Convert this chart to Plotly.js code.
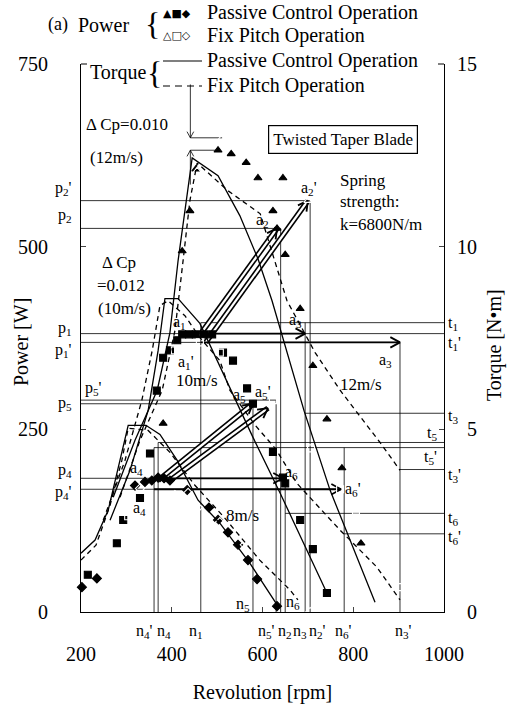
<!DOCTYPE html>
<html><head><meta charset="utf-8">
<script src="https://cdn.plot.ly/plotly-3.0.1.min.js"></script>
<style>html,body{margin:0;padding:0;background:#fff}#chart{width:517px;height:709px}</style>
</head><body><div id="chart"></div>
<script>
// ---------- Power data (rpm, W) ----------
const rpmP12 = [381, 423, 440, 453, 502, 531, 564, 590, 645, 623, 632, 650, 683, 711, 742, 775, 817];
const powP12 = [258, 494, 549, 606, 632, 627, 615, 594, 594, 549, 525, 489, 415, 337, 264, 197, 94];
const rpmF12 = [257, 456, 511, 548, 592, 700, 738, 819];
const powF12 = [100, 604, 649, 641, 617, 563, 499, 436];
const rpmP10 = [215, 279, 293, 330, 352, 367, 381, 396, 412, 423, 438, 453, 471, 489, 513, 535, 566, 579, 623, 645, 650, 683, 711, 742];
const powP10 = [51, 94, 126, 156, 217, 303, 348, 358, 372, 380, 380, 380, 380, 380, 355, 344, 306, 285, 219, 184, 176, 126, 86, 26];
const rpmF10 = [251, 255, 304, 407, 462, 506, 557, 623, 658, 707, 755, 771, 806, 855, 907];
const powF10 = [71, 82, 131, 358, 369, 355, 331, 290, 258, 224, 187, 168, 139, 94, 34];
const rpmP8 = [202, 235, 319, 341, 356, 370, 383, 396, 434, 482, 502, 524, 546, 568, 588, 632];
const powP8 = [34, 46, 173, 178, 180, 184, 183, 180, 167, 143, 126, 109, 92, 71, 45, 8];
const rpmF8 = [185, 304, 306, 330, 407, 436, 458, 506, 561, 610, 658, 705];
const powF8 = [26, 157, 149, 169, 160, 163, 143, 123, 92, 67, 36, 0];

// ---------- Torque curves (rpm, N·m) ----------
const rpmT8P = [200, 231, 260, 281, 304, 343, 374, 412, 458, 506, 572, 634];
const torT8P = [1.61, 1.97, 2.79, 3.88, 5.11, 5.11, 4.86, 4.15, 3.06, 2.43, 1.34, 0.16];
const rpmT8F = [200, 233, 264, 290, 304, 348, 396, 451, 517, 594, 661, 678];
const torT8F = [1.42, 1.83, 2.92, 4.15, 5.03, 4.97, 4.37, 3.47, 2.57, 1.42, 0.60, 0.33];
const rpmT10P = [264, 308, 348, 370, 385, 414, 462, 528, 579, 639, 742];
const torT10P = [2.51, 3.88, 5.52, 7.16, 8.58, 8.58, 7.90, 6.12, 4.78, 3.25, 0.52];
const rpmT10F = [249, 297, 334, 357, 374, 392, 429, 462, 506, 528, 584, 628, 676, 771, 852, 903];
const torT10F = [2.51, 4.15, 5.79, 7.16, 8.39, 8.52, 8.11, 7.51, 6.88, 6.07, 5.11, 4.48, 3.52, 2.24, 1.23, 0.33];
const rpmT12P = [271, 319, 368, 396, 414, 429, 445, 502, 550, 590, 621, 692, 749, 848];
const torT12P = [3.14, 4.70, 6.07, 7.65, 9.62, 10.98, 12.43, 11.94, 10.85, 9.67, 8.52, 5.49, 3.33, 0.27];
const rpmT12F = [286, 330, 379, 407, 425, 440, 456, 524, 595, 654, 716, 771, 859, 903];
const torT12F = [3.14, 4.70, 6.07, 7.70, 9.62, 11.26, 12.29, 11.53, 10.90, 8.52, 7.10, 6.07, 4.64, 3.88];

// ---------- Operating points (rpm) and levels (W) ----------
const nNames = ["n4'", "n4", "n1", "n5", "n5'", "n2", "n6", "n3", "n2'", "n6'", "n3'"];
const nVals  = [361, 370, 464, 579, 630, 640, 650, 694, 705, 780, 903];
const nTops  = [225, 232, 396, 290, 290, 525, 183, 396, 563, 225, 369];
const pNames = ["p2'", "p2", "p1", "p1'", "p5'", "p5", "p4", "p4'"];
const pVals  = [563, 525, 381, 369, 290, 285, 183, 168];
const pEnds  = [705, 640, 1000, 903, 630, 579, 645, 773];
const tNames = ["t1", "t3", "t5", "t5'", "t3'", "t6", "t6'"];
const tVals  = [396, 272, 232, 225, 195, 135, 107];
const tStarts= [464, 694, 370, 361, 903, 650, 780];

// double-line arrows [x0,y0,x1,y1] (rpm, W)
const dblArrows = [[464, 381, 632, 525], [475, 369, 700, 563], [370, 180, 579, 285], [396, 180, 612, 279]];
// single horizontal arrows
const hArrows = [[464, 381, 694, 381], [464, 369, 903, 369], [370, 183, 645, 183], [361, 168, 773, 168]];

const SERIF = "Liberation Serif, serif";
const L = 81, R = 73, T = 64, B = 97, W = 517, H = 709;
const PW = W - L - R, PH = H - T - B;
const sx = PW / 800, sy = PH / 750;
const px = v => (v - L) / PW;          // pixel -> paper x
const py = v => (H - B - v) / PH;      // pixel -> paper y

const traces = [];
const line = (x, y, w, dash, axis) => traces.push({type: 'scatter', mode: 'lines', x, y, yaxis: axis || 'y',
  line: {color: '#000', width: w, dash: dash || 'solid'}, hoverinfo: 'skip', showlegend: false, cliponaxis: false});

// reference lines
nVals.forEach((n, i) => line([n, n], [0, nTops[i]], 0.8));
pVals.forEach((p, i) => line([200, pEnds[i]], [p, p], 0.8));
tVals.forEach((t, i) => line([tStarts[i], 1000], [t, t], 0.8));

// torque curves (secondary axis)
line(rpmT8P, torT8P, 1.3, 'solid', 'y2');
line(rpmT8F, torT8F, 1.3, '5px,4px', 'y2');
line(rpmT10P, torT10P, 1.3, 'solid', 'y2');
line(rpmT10F, torT10F, 1.3, '5px,4px', 'y2');
line(rpmT12P, torT12P, 1.3, 'solid', 'y2');
line(rpmT12F, torT12F, 1.3, '5px,4px', 'y2');

// open chevron arrowhead computed through the axis scales
function head(x0, y0, x1, y1, len, w) {
  const dx = (x1 - x0) * sx, dy = (y1 - y0) * sy, Ln = Math.hypot(dx, dy);
  const ux = dx / Ln, uy = dy / Ln, a = 0.5;
  const pts = [1, -1].map(s => {
    const c = Math.cos(a), si = Math.sin(a) * s;
    const hx = -ux * c + uy * si, hy = -uy * c - ux * si;
    return [x1 + hx * len / sx, y1 + hy * len / sy];
  });
  line([pts[0][0], x1, pts[1][0]], [pts[0][1], y1, pts[1][1]], w || 1.6);
}
dblArrows.forEach(a => { line([a[0], a[2]], [a[1], a[3]], 5.5); });
dblArrows.forEach(a => { line([a[0], a[2]], [a[1], a[3]], 2.3); traces[traces.length - 1].line.color = '#fff'; });
dblArrows.forEach(a => head(a[0], a[1], a[2], a[3], 11, 1.8));
hArrows.forEach(a => { line([a[0], a[2]], [a[1], a[3]], 1.8); head(a[0], a[1], a[2], a[3], 11, 1.8); });

// delta Cp markers
const cpX = 441, cpHi = 649, cpLo = 632;
line([cpX, 511], [cpHi, cpHi], 0.8);
line([cpX, 502], [cpLo, cpLo], 0.8);
line([cpX, cpX], [722, cpHi], 0.8); head(cpX, 722, cpX, cpHi, 7, 0.8);
line([cpX, cpX], [585, cpLo], 0.8); head(cpX, 585, cpX, cpLo, 7, 0.8);

// power markers
const mk = (x, y, sym) => traces.push({type: 'scatter', mode: 'markers', x, y, showlegend: false, hoverinfo: 'skip', cliponaxis: false,
  marker: {symbol: sym, size: 7, color: sym.includes('open') ? '#fff' : '#000', line: {color: '#000', width: 1.1}}});
mk(rpmP12, powP12, 'triangle-up');
mk(rpmF12, powF12, 'triangle-up-open');
mk(rpmP10, powP10, 'square');
mk(rpmF10, powF10, 'square-open');
mk(rpmP8, powP8, 'diamond');
mk(rpmF8, powF8, 'diamond-open');

// ---------- annotations ----------
const ann = [];
const F = s => ({family: SERIF, size: s, color: '#000'});
const txt = (text, x, y, o) => ann.push(Object.assign({text, x, y, xref: 'x', yref: 'y', showarrow: false,
  xanchor: 'center', yanchor: 'middle', font: F(15)}, o || {}));
const ptxt = (text, x, y, o) => txt(text, px(x), py(y), Object.assign({xref: 'paper', yref: 'paper'}, o || {}));

// legend block
ptxt('(a)', 58, 25, {font: F(18)});
ptxt('Power', 76, 25, {xanchor: 'left', font: F(20)});
ptxt('{', 152, 24, {font: F(32)});
ptxt('\u25B2\u25A0\u25C6', 161, 13, {xanchor: 'left', font: {family: 'DejaVu Sans', size: 11, color: '#000'}});
ptxt('\u25B3\u25A1\u25C7', 161, 36, {xanchor: 'left', font: {family: 'DejaVu Sans', size: 11, color: '#000'}});
ptxt('Passive Control Operation', 205, 12, {xanchor: 'left', font: F(20)});
ptxt('Fix Pitch Operation', 205, 36, {xanchor: 'left', font: F(20)});
ptxt('Torque', 148, 73, {xanchor: 'right', font: F(20)});
ptxt('{', 154, 73, {font: F(32)});
ptxt('Passive Control Operation', 205, 61, {xanchor: 'left', font: F(20)});
ptxt('Fix Pitch Operation', 205, 85, {xanchor: 'left', font: F(20)});

// axis titles
ptxt('Power [W]', 21, 342, {textangle: -90, font: F(20)});
ptxt('Torque [N\u2022m]', 494, 345, {textangle: -90, font: F(20)});

// plot annotations
ptxt('\u0394 Cp=0.010', 84, 125, {xanchor: 'left', font: F(17)});
ptxt('(12m/s)', 88, 157, {xanchor: 'left', font: F(17)});
ptxt('\u0394 Cp', 100, 262, {xanchor: 'left', font: F(17)});
ptxt('=0.012', 95, 285, {xanchor: 'left', font: F(17)});
ptxt('(10m/s)', 96, 308, {xanchor: 'left', font: F(17)});
ptxt('Twisted Taper Blade', 343, 139, {font: F(17), bordercolor: '#000', borderwidth: 1.2, borderpad: 4, bgcolor: '#fff'});
ptxt('Spring', 338, 180, {xanchor: 'left', font: F(17)});
ptxt('strength:', 338, 202, {xanchor: 'left', font: F(17)});
ptxt('k=6800N/m', 338, 225, {xanchor: 'left', font: F(17)});
txt('10m/s', 456, 317, {font: F(17)});
txt('12m/s', 817, 311, {font: F(17)});
txt('8m/s', 557, 132, {font: F(17)});

// a labels
const aLab = [['a<sub>1</sub>', 418, 396], ["a<sub>1</sub>'", 432, 342], ['a<sub>2</sub>', 599, 536], ["a<sub>2</sub>'", 702, 580],
  ['a<sub>3</sub>', 672, 399], ['a<sub>3</sub>', 872, 344], ['a<sub>4</sub>', 322, 197], ['a<sub>4</sub>', 328, 142],
  ['a<sub>5</sub>', 550, 296], ["a<sub>5</sub>'", 601, 301], ['a<sub>6</sub>', 665, 191], ["a<sub>6</sub>'", 799, 167]];
aLab.forEach(a => txt(a[0], a[1], a[2], {font: F(16)}));

// p labels (left side)
const pLabPos = [["p<sub>2</sub>'", 579], ['p<sub>2</sub>', 542], ['p<sub>1</sub>', 388], ["p<sub>1</sub>'", 358], ['p<sub>5</sub>', 285], ['p<sub>4</sub>', 194], ["p<sub>4</sub>'", 164]];
pLabPos.forEach(p => ann.push({text: p[0], x: -0.02, y: p[1], xref: 'paper', yref: 'y', xanchor: 'right', yanchor: 'middle', showarrow: false, font: F(16)}));
ann.push({text: "p<sub>5</sub>'", x: 0.005, y: 306, xref: 'paper', yref: 'y', xanchor: 'left', yanchor: 'middle', showarrow: false, font: F(16)});
// t labels (right side)
const tLabPos = [['t<sub>1</sub>', 395, 1], ["t<sub>1</sub>'", 367, 1], ['t<sub>3</sub>', 268, 1], ['t<sub>5</sub>', 244, 0], ["t<sub>5</sub>'", 212, 0], ["t<sub>3</sub>'", 187, 1], ['t<sub>6</sub>', 128, 1], ["t<sub>6</sub>'", 102, 1]];
tLabPos.forEach(t => ann.push({text: t[0], x: t[2] ? 1.005 : 0.985, y: t[1], xref: 'paper', yref: 'y', xanchor: t[2] ? 'left' : 'right', yanchor: 'middle', showarrow: false, font: F(16)}));
// n labels (bottom)
const nLabPos = [["n<sub>4</sub>'", 341], ['n<sub>4</sub>', 383], ['n<sub>1</sub>', 453], ["n<sub>5</sub>'", 608], ['n<sub>2</sub>', 650], ['n<sub>3</sub>', 683], ["n<sub>2</sub>'", 722], ["n<sub>6</sub>'", 779], ["n<sub>3</sub>'", 910]];
nLabPos.forEach(n => ann.push({text: n[0], x: n[1], y: -0.015, xref: 'x', yref: 'paper', xanchor: 'center', yanchor: 'top', showarrow: false, font: F(16)}));
txt('n<sub>5</sub>', 557, 10, {font: F(16)});
txt('n<sub>6</sub>', 667, 13, {font: F(16)});

// frame hooks + legend line samples
const shapes = [
  {type: 'line', xref: 'paper', yref: 'paper', x0: 0, x1: px(L + 6), y0: 1, y1: 1, line: {color: '#000', width: 1}},
  {type: 'line', xref: 'paper', yref: 'paper', x0: 1, x1: px(L + PW - 6), y0: 1, y1: 1, line: {color: '#000', width: 1}},
  {type: 'line', xref: 'paper', yref: 'paper', x0: px(163), x1: px(202), y0: py(61), y1: py(61), line: {color: '#000', width: 1.2}},
  {type: 'line', xref: 'paper', yref: 'paper', x0: px(163), x1: px(202), y0: py(86), y1: py(86), line: {color: '#000', width: 1.2, dash: '7px,5px'}}
];

const axFont = F(20);
const fs = '\u2007';
const layout = {
  width: W, height: H, margin: {l: L, r: R, t: T, b: B}, paper_bgcolor: '#fff', plot_bgcolor: '#fff',
  showlegend: false,
  xaxis: {range: [200, 1000], tickvals: [200, 400, 600, 800, 1000], ticks: 'inside', ticklen: 5, showline: true, linecolor: '#000',
    linewidth: 1, showgrid: false, zeroline: false, tickfont: axFont, ticklabelstandoff: 24,
    title: {text: 'Revolution [rpm]', font: F(20), standoff: 20}},
  yaxis: {range: [0, 750], tickvals: [0, 250, 500, 750], ticks: 'inside', ticklen: 5, showline: true, linecolor: '#000',
    linewidth: 1, showgrid: false, zeroline: false, tickfont: axFont, ticklabelstandoff: 28},
  yaxis2: {range: [0, 15], tickvals: [0, 5, 10, 15], ticktext: [fs + '0', fs + '5', '10', '15'], overlaying: 'y', side: 'right',
    ticks: 'inside', ticklen: 5, showline: true, linecolor: '#000', linewidth: 1, showgrid: false, zeroline: false,
    tickfont: axFont, ticklabelstandoff: 8},
  annotations: ann, shapes: shapes,
  font: {family: SERIF, color: '#000'}
};
Plotly.newPlot('chart', traces, layout, {staticPlot: true, displayModeBar: false});
</script></body></html>
